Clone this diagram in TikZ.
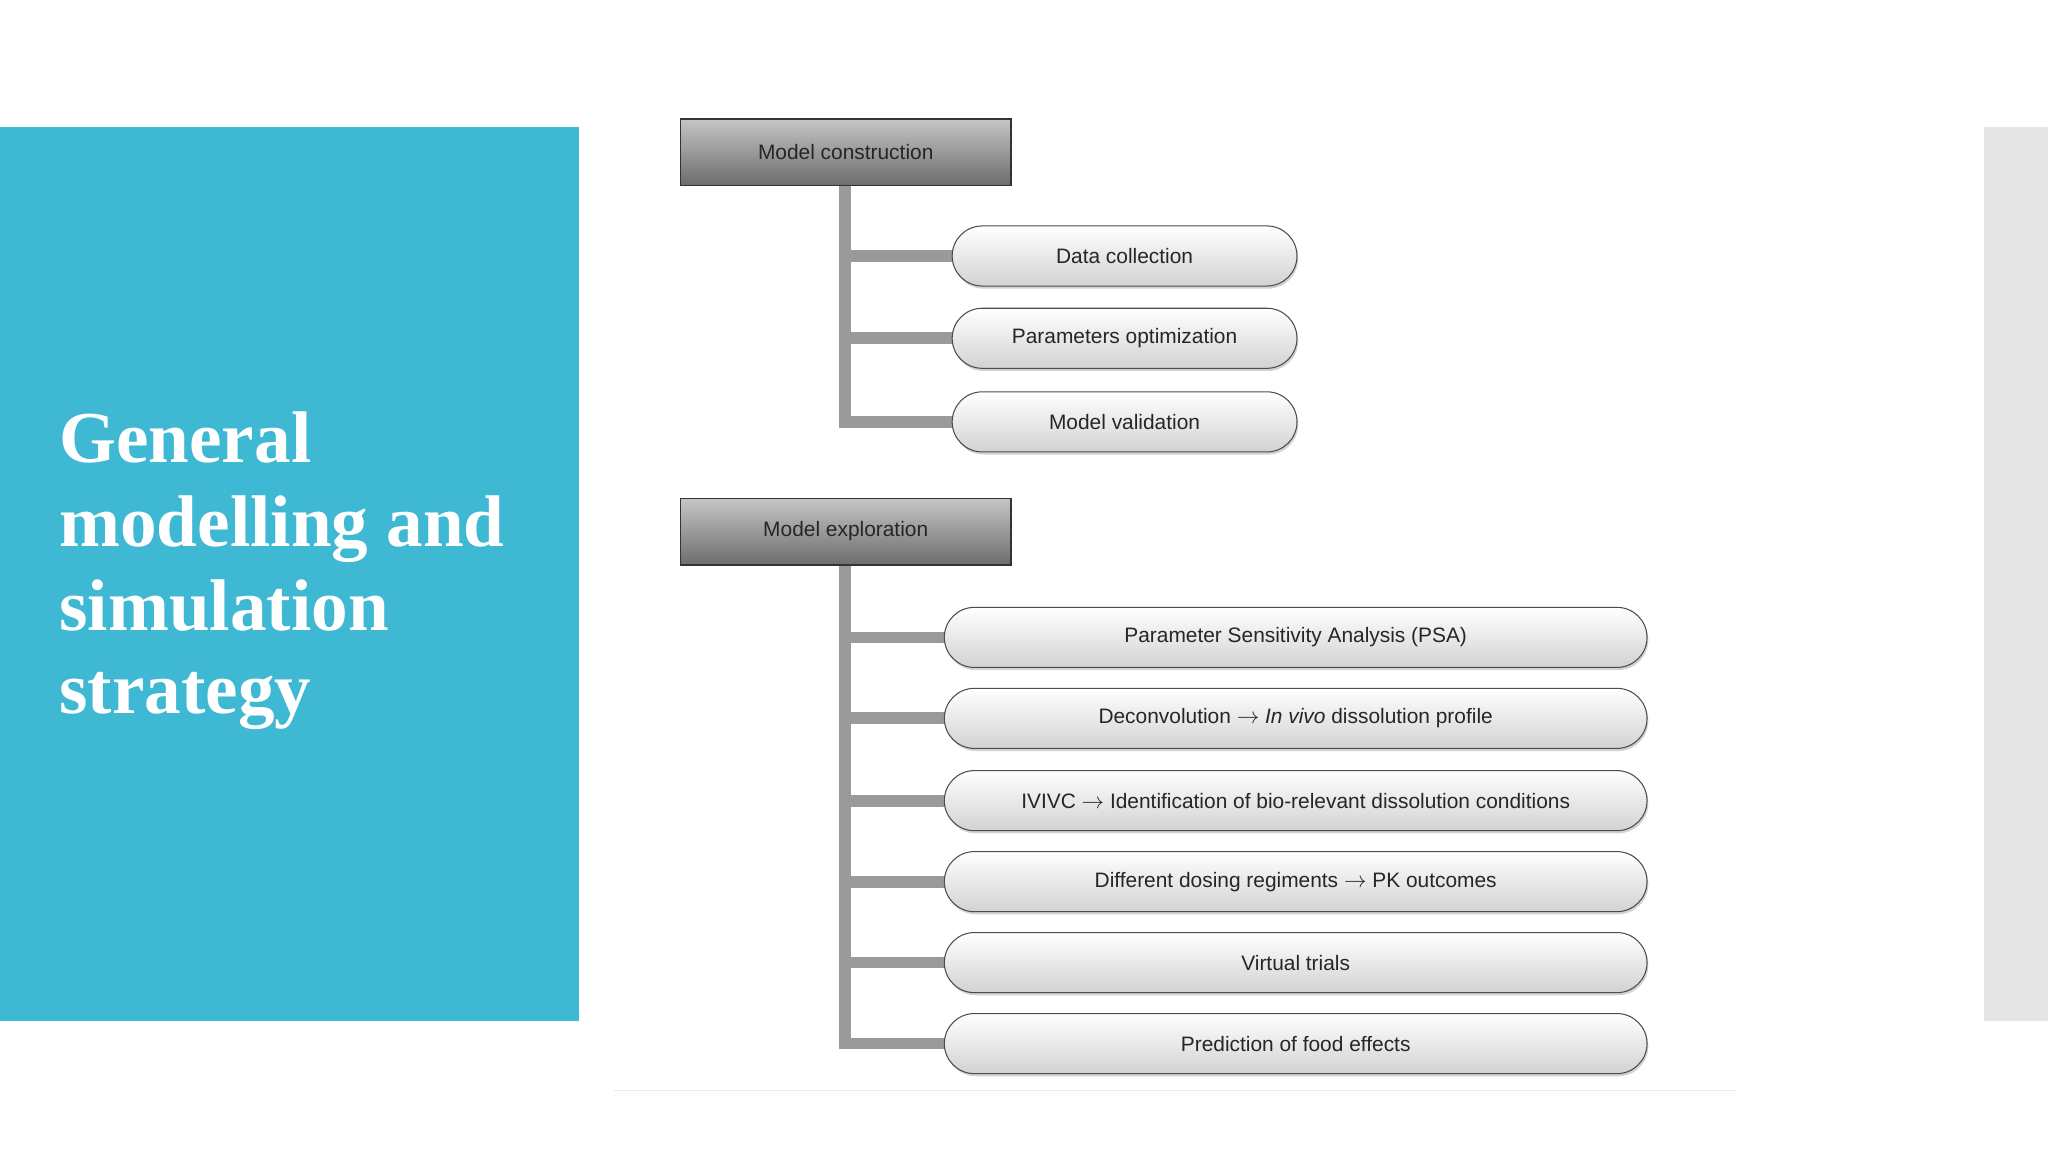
\documentclass[tikz,border=0pt]{standalone}
\usepackage{fontspec}
\setmainfont{Liberation Sans}
\newfontfamily\titlefont{Liberation Serif}
\usetikzlibrary{shadows}
\definecolor{panelblue}{HTML}{3EB8D3}
\definecolor{sidegray}{HTML}{E6E6E6}
\definecolor{stem}{HTML}{9A9A9A}
\tikzset{x=1pt,y=-1pt,
 hdr/.style={draw=black!80,line width=1pt,minimum width=253pt,minimum height=51pt,top color=gray!45,bottom color=gray!85!black,font=\fontsize{16}{18}\selectfont,text=black!85},
 pill/.style={draw=black!70,line width=0.8pt,rounded corners=23pt,minimum height=46pt,top color=white,bottom color=gray!35,drop shadow={shadow xshift=1pt,shadow yshift=-2pt,opacity=0.35},font=\fontsize{16}{18}\selectfont,text=black!85},
 stemline/.style={stem,line width=9pt}}
\begin{document}
\begin{tikzpicture}
\useasboundingbox (0,0) rectangle (1568,882);
\fill[white] (0,0) rectangle (1568,882);
\fill[panelblue] (0,97) rectangle (443,782);
\fill[sidegray] (1519,97) rectangle (1568,782);
\draw[black!8,line width=1pt] (470,835) -- (1330,835);
\node[anchor=north west,align=left,text=white,font=\titlefont\bfseries\fontsize{56}{64}\selectfont] (title) at (42,312) {General\\modelling and\\simulation\\strategy};
% construction
\coordinate (s1) at (647,142); \coordinate (e1) at (647,327);
\draw[stemline] (s1) -- (e1);
\foreach \n/\y/\t in {a/196/Data collection,b/259/Parameters optimization,c/323/Model validation}{
  \coordinate (j\n) at (647,\y);
  \draw[stemline] (642.5,\y) -- (732,\y);
  \node[pill,minimum width=264pt] (p\n) at (861,\y) {\t};
}
\node[hdr] (mc) at (647.5,116.5) {Model construction};
% exploration
\coordinate (s2) at (647,433); \coordinate (e2) at (647,803);
\draw[stemline] (s2) -- (e2);
\foreach \n/\y/\t in {d/488/Parameter Sensitivity Analysis (PSA),e/550/{Deconvolution $\rightarrow$ \textit{In vivo} dissolution profile},f/613/{IVIVC $\rightarrow$ Identification of bio-relevant dissolution conditions},g/675/{Different dosing regiments $\rightarrow$ PK outcomes},h/737/Virtual trials,i/799/Prediction of food effects}{
  \draw[stemline] (642.5,\y) -- (726,\y);
  \node[pill,minimum width=538pt] (p\n) at (992,\y) {\t};
}
\node[hdr] (me) at (647.5,407) {Model exploration};
\end{tikzpicture}
\end{document}
